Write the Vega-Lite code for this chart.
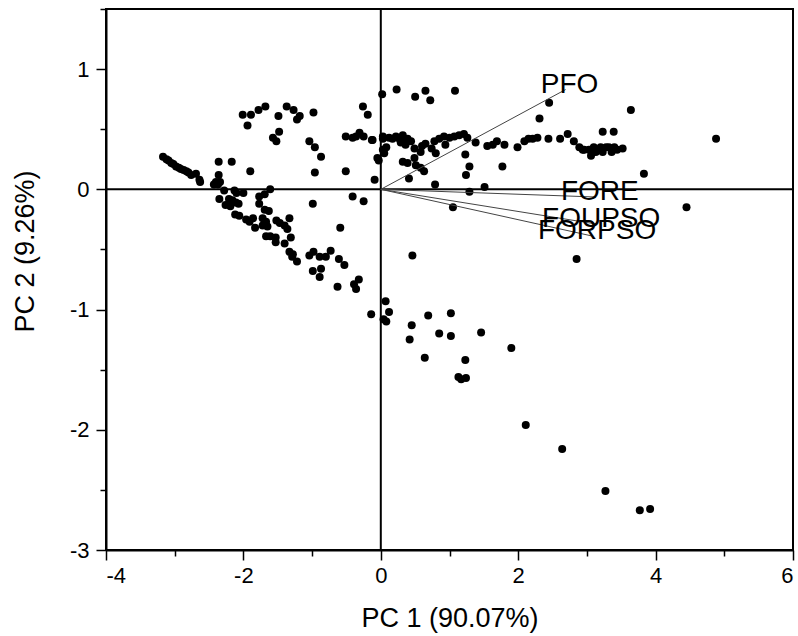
{
  "$schema": "https://vega.github.io/schema/vega-lite/v6.json",
  "width": 687,
  "height": 541,
  "autosize": {"type": "none"},
  "padding": {"left": 106, "top": 9, "right": 5, "bottom": 86},
  "background": "white",
  "config": {
    "view": {"stroke": "black", "strokeWidth": 2},
    "font": "Liberation Sans",
    "axis": {
      "labelFont": "Liberation Sans",
      "titleFont": "Liberation Sans",
      "labelColor": "black",
      "titleColor": "black",
      "labelFontSize": 22,
      "titleFontSize": 27,
      "titleFontWeight": "normal",
      "domainColor": "black",
      "domainWidth": 2,
      "tickColor": "black",
      "tickWidth": 1.5,
      "grid": false
    }
  },
  "datasets": {
    "scores": [
      {"pc1": -3.17, "pc2": 0.27}, {"pc1": -3.12, "pc2": 0.25}, {"pc1": -3.09, "pc2": 0.24}, {"pc1": -3.05, "pc2": 0.22},
      {"pc1": -3.02, "pc2": 0.21}, {"pc1": -2.98, "pc2": 0.19}, {"pc1": -2.94, "pc2": 0.18}, {"pc1": -2.91, "pc2": 0.17},
      {"pc1": -2.87, "pc2": 0.16}, {"pc1": -2.83, "pc2": 0.15}, {"pc1": -2.80, "pc2": 0.14}, {"pc1": -2.76, "pc2": 0.12},
      {"pc1": -2.69, "pc2": 0.13}, {"pc1": -2.64, "pc2": 0.08}, {"pc1": -2.63, "pc2": 0.06},
      {"pc1": -2.36, "pc2": 0.23}, {"pc1": -2.17, "pc2": 0.23}, {"pc1": -2.36, "pc2": 0.12}, {"pc1": -1.90, "pc2": 0.15},
      {"pc1": -2.40, "pc2": 0.06}, {"pc1": -2.34, "pc2": 0.06}, {"pc1": -2.43, "pc2": 0.04}, {"pc1": -2.37, "pc2": 0.04},
      {"pc1": -2.28, "pc2": -0.01}, {"pc1": -2.13, "pc2": -0.01}, {"pc1": -2.10, "pc2": -0.03}, {"pc1": -2.00, "pc2": -0.03},
      {"pc1": -2.35, "pc2": -0.08}, {"pc1": -2.21, "pc2": -0.08}, {"pc1": -2.16, "pc2": -0.09}, {"pc1": -2.26, "pc2": -0.13},
      {"pc1": -2.19, "pc2": -0.14}, {"pc1": -2.11, "pc2": -0.11}, {"pc1": -2.07, "pc2": -0.12}, {"pc1": -2.12, "pc2": -0.21},
      {"pc1": -2.06, "pc2": -0.22}, {"pc1": -1.96, "pc2": -0.25}, {"pc1": -1.91, "pc2": -0.27}, {"pc1": -1.86, "pc2": -0.24},
      {"pc1": -1.83, "pc2": -0.32}, {"pc1": -1.77, "pc2": -0.06}, {"pc1": -1.69, "pc2": -0.04}, {"pc1": -1.61, "pc2": 0.00},
      {"pc1": -1.77, "pc2": -0.12}, {"pc1": -1.69, "pc2": -0.17}, {"pc1": -1.63, "pc2": -0.18}, {"pc1": -1.72, "pc2": -0.24},
      {"pc1": -1.67, "pc2": -0.27}, {"pc1": -1.72, "pc2": -0.30}, {"pc1": -1.65, "pc2": -0.31}, {"pc1": -1.52, "pc2": -0.26},
      {"pc1": -1.47, "pc2": -0.28}, {"pc1": -1.40, "pc2": -0.30}, {"pc1": -1.33, "pc2": -0.24}, {"pc1": -1.36, "pc2": -0.33},
      {"pc1": -1.67, "pc2": -0.39}, {"pc1": -1.61, "pc2": -0.39}, {"pc1": -1.53, "pc2": -0.40}, {"pc1": -1.53, "pc2": -0.44},
      {"pc1": -1.40, "pc2": -0.45}, {"pc1": -1.31, "pc2": -0.40}, {"pc1": -1.33, "pc2": -0.52}, {"pc1": -1.28, "pc2": -0.54},
      {"pc1": -1.29, "pc2": -0.56}, {"pc1": -1.22, "pc2": -0.60}, {"pc1": -1.04, "pc2": -0.55}, {"pc1": -0.98, "pc2": -0.52},
      {"pc1": -0.89, "pc2": -0.56}, {"pc1": -0.80, "pc2": -0.56}, {"pc1": -0.73, "pc2": -0.51}, {"pc1": -0.61, "pc2": -0.58},
      {"pc1": -0.53, "pc2": -0.63}, {"pc1": -0.99, "pc2": -0.68}, {"pc1": -0.87, "pc2": -0.66}, {"pc1": -0.89, "pc2": -0.73},
      {"pc1": -0.63, "pc2": -0.81}, {"pc1": -0.39, "pc2": -0.79}, {"pc1": -0.32, "pc2": -0.75}, {"pc1": -0.36, "pc2": -0.83},
      {"pc1": -0.99, "pc2": -0.12}, {"pc1": -0.59, "pc2": -0.32}, {"pc1": -0.41, "pc2": -0.06}, {"pc1": -0.25, "pc2": -0.10},
      {"pc1": -0.96, "pc2": 0.14}, {"pc1": -0.87, "pc2": 0.27}, {"pc1": -0.51, "pc2": 0.15}, {"pc1": -0.09, "pc2": 0.08},
      {"pc1": -0.03, "pc2": 0.24}, {"pc1": 0.07, "pc2": -0.93},
      {"pc1": -2.01, "pc2": 0.62}, {"pc1": -1.89, "pc2": 0.62}, {"pc1": -1.78, "pc2": 0.66}, {"pc1": -1.68, "pc2": 0.69},
      {"pc1": -1.94, "pc2": 0.53}, {"pc1": -1.49, "pc2": 0.61}, {"pc1": -1.37, "pc2": 0.69}, {"pc1": -1.27, "pc2": 0.66},
      {"pc1": -1.18, "pc2": 0.61}, {"pc1": -1.22, "pc2": 0.58}, {"pc1": -0.98, "pc2": 0.64}, {"pc1": -1.57, "pc2": 0.43},
      {"pc1": -1.52, "pc2": 0.40}, {"pc1": -1.48, "pc2": 0.48}, {"pc1": -1.04, "pc2": 0.40}, {"pc1": -0.96, "pc2": 0.35},
      {"pc1": -0.26, "pc2": 0.69}, {"pc1": -0.19, "pc2": 0.62}, {"pc1": 0.02, "pc2": 0.79}, {"pc1": -0.51, "pc2": 0.44},
      {"pc1": -0.41, "pc2": 0.43}, {"pc1": -0.36, "pc2": 0.44}, {"pc1": -0.31, "pc2": 0.47}, {"pc1": -0.25, "pc2": 0.44},
      {"pc1": -0.13, "pc2": 0.41}, {"pc1": 0.03, "pc2": 0.44}, {"pc1": 0.08, "pc2": 0.35}, {"pc1": 0.05, "pc2": 0.30},
      {"pc1": 0.23, "pc2": 0.83}, {"pc1": 0.50, "pc2": 0.77}, {"pc1": 0.65, "pc2": 0.82}, {"pc1": 0.72, "pc2": 0.74},
      {"pc1": 1.08, "pc2": 0.82}, {"pc1": 2.45, "pc2": 0.72}, {"pc1": 2.31, "pc2": 0.59}, {"pc1": 3.64, "pc2": 0.66},
      {"pc1": 3.23, "pc2": 0.48}, {"pc1": 3.39, "pc2": 0.48}, {"pc1": 4.88, "pc2": 0.42}, {"pc1": 3.83, "pc2": 0.13},
      {"pc1": 4.45, "pc2": -0.15}, {"pc1": 1.05, "pc2": -0.15}, {"pc1": 0.46, "pc2": -0.55}, {"pc1": 2.85, "pc2": -0.58},
      {"pc1": -0.12, "pc2": 0.41}, {"pc1": 0.03, "pc2": 0.42}, {"pc1": 0.03, "pc2": 0.33}, {"pc1": -0.05, "pc2": 0.26},
      {"pc1": 0.12, "pc2": 0.43}, {"pc1": 0.17, "pc2": 0.42}, {"pc1": 0.22, "pc2": 0.44}, {"pc1": 0.27, "pc2": 0.42},
      {"pc1": 0.32, "pc2": 0.45}, {"pc1": 0.34, "pc2": 0.41}, {"pc1": 0.29, "pc2": 0.39}, {"pc1": 0.36, "pc2": 0.37},
      {"pc1": 0.39, "pc2": 0.42}, {"pc1": 0.44, "pc2": 0.40}, {"pc1": 0.49, "pc2": 0.34}, {"pc1": 0.60, "pc2": 0.36},
      {"pc1": 0.65, "pc2": 0.38}, {"pc1": 0.74, "pc2": 0.34}, {"pc1": 0.78, "pc2": 0.40}, {"pc1": 0.85, "pc2": 0.42},
      {"pc1": 0.92, "pc2": 0.44}, {"pc1": 1.00, "pc2": 0.43}, {"pc1": 1.07, "pc2": 0.44}, {"pc1": 1.14, "pc2": 0.45},
      {"pc1": 1.21, "pc2": 0.46}, {"pc1": 1.26, "pc2": 0.43}, {"pc1": 0.94, "pc2": 0.37}, {"pc1": 0.80, "pc2": 0.30},
      {"pc1": 0.58, "pc2": 0.31}, {"pc1": 0.32, "pc2": 0.23}, {"pc1": 0.39, "pc2": 0.22}, {"pc1": 0.49, "pc2": 0.26},
      {"pc1": 0.51, "pc2": 0.20}, {"pc1": 0.58, "pc2": 0.18}, {"pc1": 0.63, "pc2": 0.15}, {"pc1": 0.41, "pc2": 0.09},
      {"pc1": 0.79, "pc2": 0.04}, {"pc1": 1.23, "pc2": 0.29}, {"pc1": 1.29, "pc2": 0.19}, {"pc1": 1.24, "pc2": 0.12},
      {"pc1": 1.29, "pc2": -0.02}, {"pc1": 1.51, "pc2": 0.02}, {"pc1": 1.38, "pc2": 0.39}, {"pc1": 1.55, "pc2": 0.36},
      {"pc1": 1.63, "pc2": 0.37}, {"pc1": 1.69, "pc2": 0.40}, {"pc1": 1.80, "pc2": 0.37}, {"pc1": 1.77, "pc2": 0.19},
      {"pc1": 1.99, "pc2": 0.35}, {"pc1": 2.09, "pc2": 0.40}, {"pc1": 2.15, "pc2": 0.42}, {"pc1": 2.21, "pc2": 0.42},
      {"pc1": 2.28, "pc2": 0.43}, {"pc1": 2.44, "pc2": 0.42}, {"pc1": 2.61, "pc2": 0.42}, {"pc1": 2.72, "pc2": 0.46},
      {"pc1": 2.81, "pc2": 0.40}, {"pc1": 2.89, "pc2": 0.35}, {"pc1": 2.96, "pc2": 0.33}, {"pc1": 3.03, "pc2": 0.33},
      {"pc1": 3.10, "pc2": 0.35}, {"pc1": 3.13, "pc2": 0.31}, {"pc1": 3.20, "pc2": 0.35}, {"pc1": 3.23, "pc2": 0.31},
      {"pc1": 3.28, "pc2": 0.35}, {"pc1": 3.32, "pc2": 0.35}, {"pc1": 3.36, "pc2": 0.31}, {"pc1": 3.40, "pc2": 0.35},
      {"pc1": 3.44, "pc2": 0.33}, {"pc1": 3.52, "pc2": 0.34}, {"pc1": 3.06, "pc2": 0.28}, {"pc1": 2.94, "pc2": 0.33},
      {"pc1": -0.14, "pc2": -1.04}, {"pc1": 0.12, "pc2": -1.02}, {"pc1": 0.04, "pc2": -1.08}, {"pc1": 0.08, "pc2": -1.10},
      {"pc1": 0.45, "pc2": -1.13}, {"pc1": 0.42, "pc2": -1.25}, {"pc1": 0.69, "pc2": -1.05}, {"pc1": 1.02, "pc2": -1.03},
      {"pc1": 0.85, "pc2": -1.20}, {"pc1": 1.02, "pc2": -1.22}, {"pc1": 0.64, "pc2": -1.40}, {"pc1": 1.23, "pc2": -1.42},
      {"pc1": 1.13, "pc2": -1.56}, {"pc1": 1.17, "pc2": -1.58}, {"pc1": 1.24, "pc2": -1.57}, {"pc1": 1.46, "pc2": -1.19},
      {"pc1": 1.90, "pc2": -1.32}, {"pc1": 2.11, "pc2": -1.96}, {"pc1": 2.64, "pc2": -2.16}, {"pc1": 3.27, "pc2": -2.51},
      {"pc1": 3.77, "pc2": -2.67}, {"pc1": 3.92, "pc2": -2.66}
    ],
    "loadings": [
      {"variable": "PFO", "from1": 0, "from2": 0, "pc1": 2.69, "pc2": 0.83},
      {"variable": "FORE", "from1": 0, "from2": 0, "pc1": 3.13, "pc2": -0.064},
      {"variable": "FOUPSO", "from1": 0, "from2": 0, "pc1": 3.15, "pc2": -0.29},
      {"variable": "FORPSO", "from1": 0, "from2": 0, "pc1": 3.09, "pc2": -0.39}
    ]
  },
  "layer": [
    {
      "data": {"name": "scores"},
      "mark": {"type": "circle", "size": 64, "color": "black", "opacity": 1},
      "encoding": {
        "x": {
          "field": "pc1", "type": "quantitative",
          "scale": {"domain": [-4, 6], "nice": false, "zero": false},
          "axis": {
            "title": "PC 1 (90.07%)",
            "values": [-4, -3, -2, -1, 0, 1, 2, 3, 4, 5, 6],
            "labelExpr": "datum.value % 2 === 0 ? toString(datum.value) : ''",
            "tickSize": {"condition": {"test": "datum.value % 2 !== 0", "value": 6}, "value": 10},
            "labelPadding": 5,
            "titlePadding": 19
          }
        },
        "y": {
          "field": "pc2", "type": "quantitative",
          "scale": {"domain": [-3, 1.5], "nice": false, "zero": false},
          "axis": {
            "title": "PC 2 (9.26%)",
            "values": [-3, -2.5, -2, -1.5, -1, -0.5, 0, 0.5, 1, 1.5],
            "labelExpr": "datum.value % 1 === 0 ? toString(datum.value) : ''",
            "tickSize": {"condition": {"test": "datum.value % 1 !== 0", "value": 6}, "value": 10},
            "labelPadding": 7,
            "titlePadding": 30,
            "titleY": 242
          }
        }
      }
    },
    {
      "data": {"values": [{"v": 0}]},
      "mark": {"type": "rule", "color": "black", "strokeWidth": 2},
      "encoding": {"x": {"field": "v", "type": "quantitative"}}
    },
    {
      "data": {"values": [{"v": 0}]},
      "mark": {"type": "rule", "color": "black", "strokeWidth": 2},
      "encoding": {"y": {"field": "v", "type": "quantitative"}}
    },
    {
      "data": {"name": "loadings"},
      "mark": {"type": "rule", "color": "#444444", "strokeWidth": 1},
      "encoding": {
        "x": {"field": "from1", "type": "quantitative"},
        "y": {"field": "from2", "type": "quantitative"},
        "x2": {"field": "pc1"},
        "y2": {"field": "pc2"}
      }
    },
    {
      "data": {"name": "loadings"},
      "mark": {"type": "text", "font": "Liberation Sans", "fontSize": 28, "color": "black", "align": "center", "baseline": "middle", "dx": 4, "dy": -5},
      "encoding": {
        "x": {"field": "pc1", "type": "quantitative"},
        "y": {"field": "pc2", "type": "quantitative"},
        "text": {"field": "variable", "type": "nominal"}
      }
    }
  ]
}
